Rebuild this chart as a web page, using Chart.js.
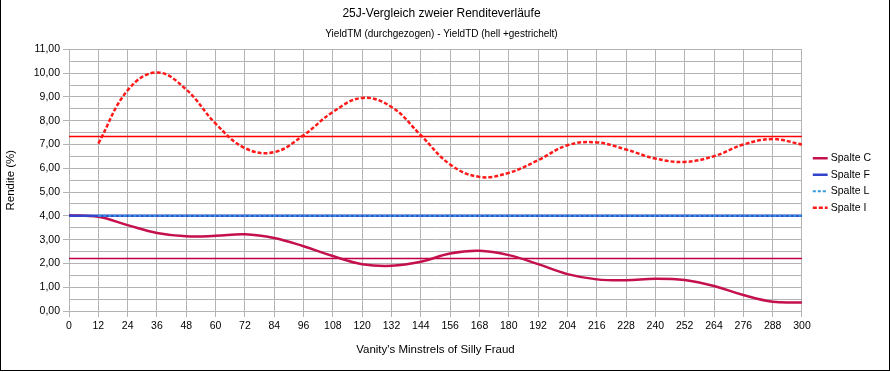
<!DOCTYPE html>
<html>
<head>
<meta charset="utf-8">
<script src="https://cdn.jsdelivr.net/npm/chart.js@4.4.1/dist/chart.umd.min.js"></script>
<style>
  html, body { margin: 0; padding: 0; background: #fff; }
  #wrap { position: relative; width: 890px; height: 372px; }
  #frame { position: absolute; left: 0; top: 0; width: 890px; height: 371px; box-sizing: border-box;
           border-left: 1px solid #000; border-right: 1px solid #000; border-bottom: 1px solid #000; pointer-events: none; }
</style>
</head>
<body>
<div id="wrap">
  <canvas id="chart" width="890" height="372"></canvas>
  <div id="frame"></div>
</div>
<script>
// x values (months)
const months = [0, 12, 24, 36, 48, 60, 72, 84, 96, 108, 120, 132, 144, 156, 168, 180, 192, 204, 216, 228, 240, 252, 264, 276, 288, 300];

// yields in %
const spalteC = [4.03, 3.96, 3.61, 3.28, 3.14, 3.16, 3.23, 3.07, 2.72, 2.31, 1.97, 1.90, 2.07, 2.42, 2.53, 2.35, 1.97, 1.55, 1.33, 1.29, 1.36, 1.30, 1.05, 0.67, 0.39, 0.36];
const spalteF = [4.00, 4.00, 4.00, 4.00, 4.00, 4.00, 4.00, 4.00, 4.00, 4.00, 4.00, 4.00, 4.00, 4.00, 4.00, 4.00, 4.00, 4.00, 4.00, 4.00, 4.00, 4.00, 4.00, 4.00, 4.00, 4.00];
const spalteL = [null, 4.01, 4.01, 4.01, 4.01, 4.01, 4.01, 4.01, 4.01, 4.01, 4.01, 4.01, 4.01, 4.01, 4.01, 4.01, 4.01, 4.01, 4.01, 4.01, 4.01, 4.01, 4.01, 4.01, 4.01, 4.01];
const spalteI = [null, 7.04, 9.28, 10.03, 9.31, 7.88, 6.85, 6.68, 7.39, 8.37, 8.96, 8.58, 7.39, 6.16, 5.64, 5.81, 6.34, 6.97, 7.09, 6.79, 6.41, 6.27, 6.51, 7.00, 7.23, 7.00];

// mean value lines
const meanI = 7.34;
const meanC = 2.21;

const FONT = 'Liberation Sans';

const toPoints = arr => arr.map((v, i) => ({ x: months[i], y: v }));
const flat = v => [{ x: months[0], y: v }, { x: months[months.length - 1], y: v }];

// nudge the legend block up a little
const legendShift = {
  id: 'legendShift',
  afterLayout(chart) {
    if (chart.legend) {
      chart.legend.top -= 3;
      chart.legend.bottom -= 3;
    }
  },
};

new Chart(document.getElementById('chart'), {
  type: 'line',
  plugins: [legendShift],
  data: {
    datasets: [
      {
        label: 'Spalte C',
        data: toPoints(spalteC),
        borderColor: '#c4104c',
        borderWidth: 2.5,
        tension: 0.4,
        order: 3,
      },
      {
        label: 'Spalte F',
        data: toPoints(spalteF),
        borderColor: '#3344cc',
        borderWidth: 2.5,
        order: 2,
      },
      {
        label: 'Spalte L',
        data: toPoints(spalteL),
        borderColor: '#3399dd',
        borderWidth: 2,
        borderDash: [3, 2],
        order: 1,
      },
      {
        label: 'Spalte I',
        data: toPoints(spalteI),
        borderColor: '#ff1a1a',
        borderWidth: 2.5,
        borderDash: [4, 2],
        tension: 0.4,
        order: 0,
      },
      {
        label: 'Mittelwert I',
        data: flat(meanI),
        borderColor: '#ff0000',
        borderWidth: 1.5,
        order: 4,
      },
      {
        label: 'Mittelwert C',
        data: flat(meanC),
        borderColor: '#c00048',
        borderWidth: 1.5,
        order: 4,
      },
    ],
  },
  options: {
    responsive: false,
    animation: false,
    devicePixelRatio: 1,
    layout: { padding: { left: 2, right: 9, top: 0, bottom: 0 } },
    elements: {
      point: { radius: 0, hoverRadius: 0, pointStyle: 'line' },
      line: { fill: false, borderCapStyle: 'butt' },
    },
    plugins: {
      title: {
        display: true,
        text: '25J-Vergleich zweier Renditeverläufe',
        color: '#000',
        font: { family: FONT, size: 12, weight: 'normal' },
        padding: { top: 6, bottom: 8 },
      },
      subtitle: {
        display: true,
        text: 'YieldTM (durchgezogen) - YieldTD (hell +gestrichelt)',
        color: '#000',
        font: { family: FONT, size: 10, weight: 'normal' },
        padding: { top: 0, bottom: 9 },
      },
      legend: {
        position: 'right',
        labels: {
          color: '#000',
          font: { family: FONT, size: 10.5 },
          usePointStyle: true,
          boxWidth: 13,
          padding: 6,
          filter: item => item.text.startsWith('Spalte'),
          sort: (a, b) => a.datasetIndex - b.datasetIndex,
          // point style items lose the dash of the line, put it back
          generateLabels: chart => {
            const items = Chart.defaults.plugins.legend.labels.generateLabels(chart);
            items.forEach(item => {
              const ds = chart.data.datasets[item.datasetIndex];
              item.lineDash = ds.borderDash || [];
              item.lineWidth = ds.borderWidth;
              item.strokeStyle = ds.borderColor;
            });
            return items;
          },
        },
      },
      tooltip: { enabled: false },
    },
    scales: {
      x: {
        type: 'linear',
        min: 0,
        max: 300,
        ticks: {
          stepSize: 12,
          autoSkip: false,
          maxRotation: 0,
          color: '#000',
          padding: 3,
          font: { family: FONT, size: 10.5 },
        },
        grid: { color: '#b3b3b3', tickLength: 6 },
        border: { color: '#b3b3b3' },
        title: {
          display: true,
          text: "Vanity's Minstrels of Silly Fraud",
          color: '#000',
          font: { family: FONT, size: 11.5 },
          padding: { top: 0, bottom: 15 },
        },
        afterFit: s => { s.height = 61; },
      },
      y: {
        position: 'left',
        min: 0,
        max: 11,
        ticks: {
          stepSize: 1,
          color: '#000',
          padding: 3,
          font: { family: FONT, size: 10.5 },
          callback: v => v.toFixed(2).replace('.', ','),
        },
        grid: { color: '#b3b3b3', tickLength: 6, drawOnChartArea: false },
        border: { color: '#b3b3b3' },
        title: {
          display: true,
          text: 'Rendite (%)',
          color: '#000',
          font: { family: FONT, size: 11.5 },
          padding: { top: 2, bottom: 0 },
        },
        afterFit: s => { s.width = 67; },
      },
      // minor grid every 0,5
      y2: {
        position: 'left',
        min: 0,
        max: 11,
        ticks: { stepSize: 0.5, display: false },
        grid: { color: '#b3b3b3', drawTicks: false },
        border: { display: false },
        afterFit: s => { s.width = 0; },
      },
      // empty gap between plot and legend
      y3: {
        position: 'right',
        min: 0,
        max: 11,
        ticks: { display: false },
        grid: { display: false },
        border: { display: false },
        afterFit: s => { s.width = 7; },
      },
    },
  },
});
</script>
</body>
</html>
